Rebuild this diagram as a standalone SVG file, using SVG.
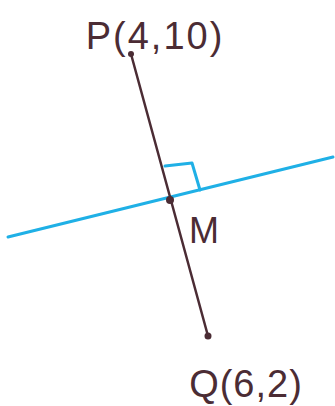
<svg xmlns="http://www.w3.org/2000/svg" width="335" height="406" viewBox="0 0 335 406">
<style>
.ink{stroke:#4b2c34;fill:none;stroke-linecap:round}
.blue{stroke:#1fb0e6;fill:none;stroke-linecap:round;stroke-linejoin:round}
.lbl{font-family:"Liberation Sans",Arial,sans-serif;fill:#4b2c34}
</style>
<rect width="335" height="406" fill="#ffffff"/>
<g id="connectors">
<path class="blue" stroke-width="3" d="M8,237 L333,157"/>
<path class="blue" stroke-width="3" d="M165,166 L192,163 L200,190"/>
<path class="ink" stroke-width="2.5" d="M131,54 L208,336"/>
</g>
<g id="P">
<circle cx="131" cy="54" r="3" fill="#4b2c34"/>
<text class="lbl" x="155" y="49" font-size="38" text-anchor="middle" letter-spacing="2">P(4,10)</text>
</g>
<g id="M">
<circle cx="170" cy="200" r="4" fill="#4b2c34"/>
<text class="lbl" x="204" y="243" font-size="36" text-anchor="middle">M</text>
</g>
<g id="Q">
<circle cx="208" cy="336" r="3.5" fill="#4b2c34"/>
<text class="lbl" x="246" y="397" font-size="38" text-anchor="middle" letter-spacing="1">Q(6,2)</text>
</g>
</svg>
